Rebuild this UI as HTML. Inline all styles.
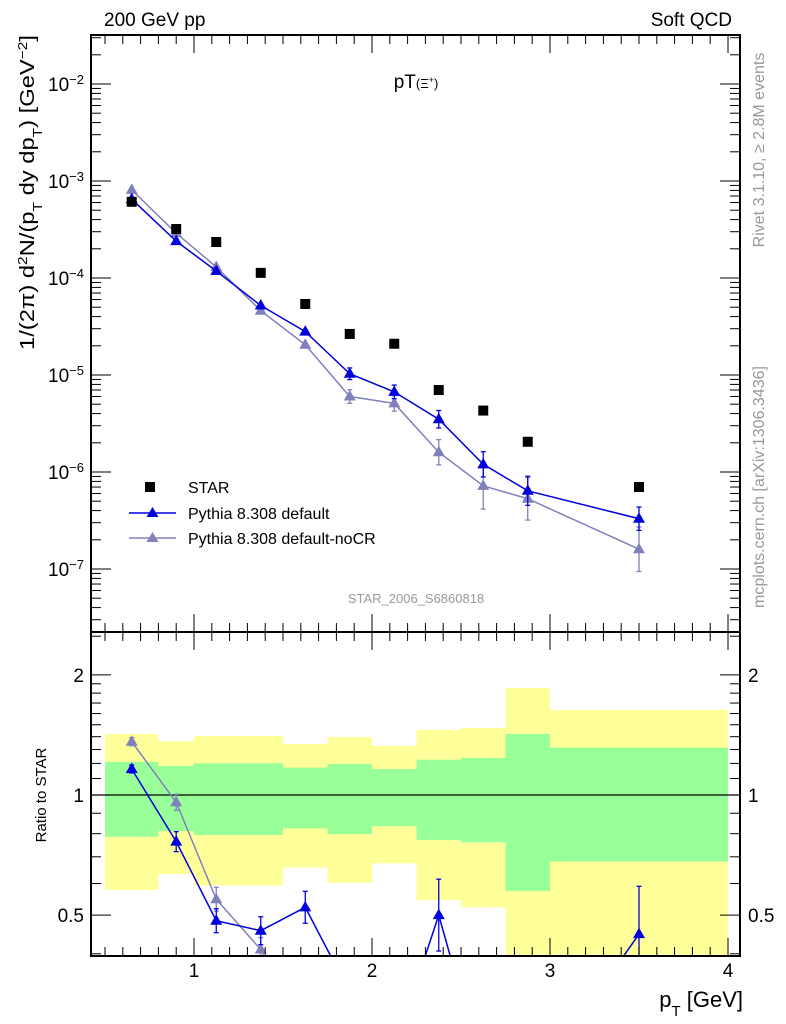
<!DOCTYPE html>
<html><head><meta charset="utf-8"><style>
html,body{margin:0;background:#fff;overflow:hidden;width:786px;height:1024px;}
svg{display:block;font-family:"Liberation Sans",sans-serif;}
</style></head><body>
<svg id="c" width="786" height="1024" viewBox="0 0 786 1024">
<text x="104" y="26" font-size="19">200 GeV pp</text>
<text x="732" y="26" font-size="19" text-anchor="end">Soft QCD</text>
<text x="416" y="88" font-size="19" text-anchor="middle">pT<tspan font-size="13">(Ξ<tspan baseline-shift="super" font-size="9">+</tspan>)</tspan></text>
<text x="416" y="603" font-size="13" fill="#999" text-anchor="middle">STAR_2006_S6860818</text>
<text transform="translate(764,150) rotate(-90)" font-size="16" fill="#999" text-anchor="middle">Rivet 3.1.10, ≥ 2.8M events</text>
<text transform="translate(764,487) rotate(-90)" font-size="16" fill="#999" text-anchor="middle">mcplots.cern.ch [arXiv:1306.3436]</text>
<text transform="translate(34,350) rotate(-90)" font-size="20" textLength="315" lengthAdjust="spacingAndGlyphs">1/(2π) d<tspan baseline-shift="super" font-size="13">2</tspan>N/(p<tspan baseline-shift="sub" font-size="13">T</tspan> dy dp<tspan baseline-shift="sub" font-size="13">T</tspan>) [GeV<tspan baseline-shift="super" font-size="13">−2</tspan>]</text>
<text transform="translate(46,795) rotate(-90)" font-size="15" text-anchor="middle">Ratio to STAR</text>
<text x="743" y="1007" font-size="22" text-anchor="end">p<tspan baseline-shift="sub" font-size="15">T</tspan> [GeV]</text>
<g id="bands"></g><g id="marks"></g><g id="axes"></g>
<g>
<rect x="145" y="482" width="10" height="10" fill="#000"/>
<text x="188" y="493" font-size="16">STAR</text>
<line x1="129" y1="513" x2="176" y2="513" stroke="#0000dd" stroke-width="1.5"/>
<polygon points="152.5,507 146.5,517 158.5,517" fill="#0000dd"/>
<text x="188" y="519" font-size="16">Pythia 8.308 default</text>
<line x1="129" y1="538" x2="176" y2="538" stroke="#8080bb" stroke-width="1.5"/>
<polygon points="152.5,532 146.5,542 158.5,542" fill="#8080bb"/>
<text x="188" y="544" font-size="16">Pythia 8.308 default-noCR</text>
</g>
</svg>
<script>
const xs=[0.65,0.9,1.125,1.375,1.625,1.875,2.125,2.375,2.625,2.875,3.5];
const star=[6.1e-4,3.2e-4,2.35e-4,1.13e-4,5.4e-5,2.65e-5,2.1e-5,7.0e-6,4.3e-6,2.05e-6,7.0e-7];
const pyDef=[6.5e-4,2.4e-4,1.18e-4,5.2e-5,2.8e-5,1.03e-5,6.7e-6,3.5e-6,1.2e-6,6.4e-7,3.3e-7];
const pyNoCR=[8.1e-4,2.9e-4,1.3e-4,4.6e-5,2.05e-5,6.0e-6,5.1e-6,1.6e-6,7.2e-7,5.3e-7,1.6e-7];
const errDef=[0.01,0.025,0.03,0.035,0.04,0.06,0.07,0.09,0.13,0.15,0.12];
const errNoCR=[0.01,0.02,0.03,0.03,0.04,0.07,0.08,0.13,0.24,0.22,0.23];
const ratioDef=[1.162,0.764,0.484,0.457,0.523,0.32,0.23,0.50,0.2,0.18,0.448];
const ratioNoCR=[1.36,0.959,0.548,0.41,0.25,0.23,0.24,0.23,0.17,0.2,0.2];
const binEdges=[0.5,0.8,1.0,1.25,1.5,1.75,2.0,2.25,2.5,2.75,3.0,4.0];
const yelHi=[1.422,1.365,1.406,1.406,1.342,1.397,1.327,1.455,1.472,1.854,1.634];
const grnHi=[1.210,1.182,1.201,1.201,1.171,1.196,1.162,1.226,1.238,1.422,1.314];
const grnLo=[0.786,0.812,0.794,0.794,0.825,0.798,0.835,0.771,0.761,0.575,0.681];
const yelLo=[0.578,0.634,0.593,0.593,0.658,0.602,0.674,0.545,0.523,0.2,0.2];
const xTicks=[1,2,3,4];
const yDecades=[-7,-6,-5,-4,-3,-2];
const rTicks=[0.5,1,2];

const NS='http://www.w3.org/2000/svg';
const L=91,R=740,T=35,MB=632,RB=956;
const X=v=>194+(v-1)*178;
const Y=v=>84+(-2-Math.log10(v))*97;
const RY=v=>795-Math.log10(v)*399;
function mk(p,tag,a){const e=document.createElementNS(NS,tag);for(const k in a)e.setAttribute(k,a[k]);p.appendChild(e);return e;}
const bands=document.getElementById('bands'),marks=document.getElementById('marks'),axes=document.getElementById('axes');

for(let i=0;i<binEdges.length-1;i++){
  const x1=X(binEdges[i]),w=X(binEdges[i+1])-x1;
  let yt=RY(yelHi[i]),yb=Math.min(RB,RY(yelLo[i]));
  const yb1=mk(bands,'rect',{x:x1,y:yt,width:w,height:yb-yt,fill:'#ffff99'});
  
  
  const gt=RY(grnHi[i]),gb=RY(grnLo[i]);
  const g=mk(bands,'rect',{x:x1,y:gt,width:w,height:gb-gt,fill:'#99ff99'});
  
  
}
mk(bands,'line',{x1:L,x2:R,y1:RY(1),y2:RY(1),stroke:'#000','stroke-width':1.2});

const defs=mk(marks,'defs',{});
const cp=mk(defs,'clipPath',{id:'rclip'});mk(cp,'rect',{x:L,y:MB,width:R-L,height:RB-MB});
const rg=mk(marks,'g',{'clip-path':'url(#rclip)'});

function tri(p,x,y,col,name){const t=mk(p,'polygon',{points:`${x},${y-6.5} ${x-6},${y+4} ${x+6},${y+4}`,fill:col});

}
function series(vals,errs,col,name,rvals){
  mk(marks,'polyline',{points:xs.map((x,i)=>X(x)+','+Y(vals[i])).join(' '),fill:'none',stroke:col,'stroke-width':1.5});
  xs.forEach((x,i)=>{
    const e=errs[i],y1=Y(vals[i]*Math.pow(10,e)),y2=Y(vals[i]*Math.pow(10,-e));
    if(y2-y1>8){mk(marks,'line',{x1:X(x),x2:X(x),y1:y1,y2:y2,stroke:col,'stroke-width':1.3});
    mk(marks,'line',{x1:X(x)-2.5,x2:X(x)+2.5,y1:y1,y2:y1,stroke:col,'stroke-width':1.3});
    mk(marks,'line',{x1:X(x)-2.5,x2:X(x)+2.5,y1:y2,y2:y2,stroke:col,'stroke-width':1.3});}
    tri(marks,X(x),Y(vals[i]),col,name+'-point');
  });
  mk(rg,'polyline',{points:xs.map((x,i)=>X(x)+','+RY(rvals[i])).join(' '),fill:'none',stroke:col,'stroke-width':1.5});
  xs.forEach((x,i)=>{
    const e=errs[i],y1=RY(rvals[i]*Math.pow(10,e)),y2=RY(rvals[i]*Math.pow(10,-e));
    if(y1>RB)return;
    mk(rg,'line',{x1:X(x),x2:X(x),y1:y1,y2:y2,stroke:col,'stroke-width':1.3});
    mk(rg,'line',{x1:X(x)-2.5,x2:X(x)+2.5,y1:y1,y2:y1,stroke:col,'stroke-width':1.3});
    mk(rg,'line',{x1:X(x)-2.5,x2:X(x)+2.5,y1:y2,y2:y2,stroke:col,'stroke-width':1.3});
    tri(rg,X(x),RY(rvals[i]),col,name+'-ratio-point');
  });
}
series(pyNoCR,errNoCR,'#8080bb','pythia-nocr',ratioNoCR);
series(pyDef,errDef,'#0000dd','pythia-default',ratioDef);
xs.forEach((x,i)=>{
  const r=mk(marks,'rect',{x:X(x)-5,y:Y(star[i])-5,width:10,height:10,fill:'#000'});
  
  
});

mk(axes,'rect',{x:L,y:T,width:R-L,height:MB-T,fill:'none',stroke:'#000','stroke-width':2});
mk(axes,'rect',{x:L,y:MB,width:R-L,height:RB-MB,fill:'none',stroke:'#000','stroke-width':2});
for(let k=5;k<=40;k++){const v=k/10,x=X(v);if(x<L||x>R)continue;const maj=k%10===0;const len=maj?18:9;
  [[T,1],[MB,-1],[MB,1],[RB,-1]].forEach(([y,d])=>mk(axes,'line',{x1:x,x2:x,y1:y,y2:y+d*len,stroke:'#000','stroke-width':1}));}
xTicks.forEach(v=>{const t=mk(axes,'text',{x:X(v),y:977,'font-size':19,'text-anchor':'middle'});t.textContent=v;

});
for(let d=-8;d<=-1;d++)for(let m=1;m<=9;m++){const v=m*Math.pow(10,d),y=Y(v);if(y<T||y>MB)continue;const len=m===1?20:10;
  mk(axes,'line',{x1:L,x2:L+len,y1:y,y2:y,stroke:'#000'});mk(axes,'line',{x1:R,x2:R-len,y1:y,y2:y,stroke:'#000'});}
yDecades.forEach(d=>{const t=mk(axes,'text',{x:84,y:Y(Math.pow(10,d))+7,'font-size':19,'text-anchor':'end'});
  t.innerHTML='10<tspan baseline-shift="super" font-size="13">'+(d<0?'−':'')+Math.abs(d)+'</tspan>';
  
  });
const rMinor=[0.4,0.5,0.6,0.7,0.8,0.9,1,1.1,1.2,1.3,1.4,1.5,1.6,1.7,1.8,1.9,2,2.5];
rMinor.forEach(v=>{const y=RY(v);if(y<MB||y>RB)return;const maj=[0.5,1,2].some(q=>Math.abs(q-v)<1e-6);const len=maj?20:10;
  mk(axes,'line',{x1:L,x2:L+len,y1:y,y2:y,stroke:'#000'});mk(axes,'line',{x1:R,x2:R-len,y1:y,y2:y,stroke:'#000'});});
rTicks.forEach(v=>{[[84,'end'],[748,'start']].forEach(([x,a])=>{const t=mk(axes,'text',{x:x,y:RY(v)+7,'font-size':19,'text-anchor':a});t.textContent=v;
  
  });});
</script>
</body></html>
